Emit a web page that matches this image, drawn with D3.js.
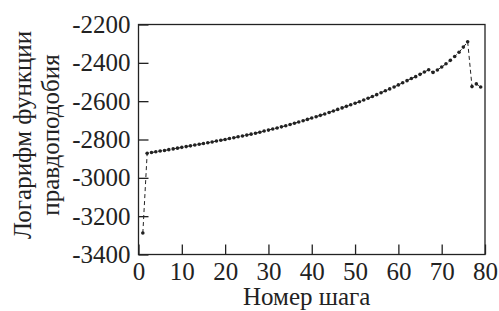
<!DOCTYPE html>
<html>
<head>
<meta charset="utf-8">
<script src="https://cdn.jsdelivr.net/npm/d3@7"></script>
<style>
  body { margin: 0; background: #fff; }
  svg text { font-family: "Times New Roman", Times, Tinos, "Liberation Serif", "DejaVu Serif", serif; fill: #222; }
</style>
</head>
<body>
<script>
var w = 499, h = 311;
var margin = {top: 24.5, right: 14, bottom: 56.5, left: 138.5};

// step numbers and log-likelihood values
var steps = d3.range(1, 80);
var logLik = [
  -3288, -2872, -2868, -2864, -2860, -2857, -2853, -2849, -2845, -2841,
  -2837, -2833, -2829, -2825, -2821, -2817, -2813, -2808, -2804, -2800,
  -2795, -2791, -2786, -2782, -2777, -2772, -2767, -2762, -2756, -2751,
  -2745, -2740, -2734, -2728, -2722, -2715, -2709, -2702, -2695, -2688,
  -2681, -2674, -2667, -2659, -2651, -2643, -2635, -2627, -2619, -2611,
  -2603, -2594, -2585, -2576, -2566, -2556, -2546, -2536, -2526, -2515,
  -2504, -2493, -2482, -2472, -2460, -2448, -2436, -2450, -2437, -2422,
  -2405, -2387, -2367, -2345, -2318, -2290, -2524, -2510, -2526
];
var xTicks = [0, 10, 20, 30, 40, 50, 60, 70, 80];
var yTicks = [-3400, -3200, -3000, -2800, -2600, -2400, -2200];
var yTitle = ["Логарифм функции", "правдоподобия"];
var xTitle = "Номер шага";

var serif = '"Times New Roman", Times, Tinos, "Liberation Serif", "DejaVu Serif", serif';
var data = steps.map(function(s, i) { return {x: s, y: logLik[i]}; });

var svg = d3.select('body').append('svg')
  .attr('width', w).attr('height', h)
  .attr('font-family', serif);

var x = d3.scaleLinear().domain([0, 80]).range([margin.left, w - margin.right]);
var y = d3.scaleLinear().domain([-3400, -2200]).range([h - margin.bottom, margin.top]);

// frame
svg.append('rect')
  .attr('x', x(0)).attr('y', y(-2200))
  .attr('width', x(80) - x(0)).attr('height', y(-3400) - y(-2200))
  .attr('fill', 'none').attr('stroke', '#222').attr('stroke-width', 1.3);

// axes with inward ticks
var xAxis = svg.append('g')
  .attr('transform', 'translate(0,' + y(-3400) + ')')
  .call(d3.axisBottom(x).tickValues(xTicks).tickSizeInner(-10).tickSizeOuter(0).tickPadding(8));
var yAxis = svg.append('g')
  .attr('transform', 'translate(' + x(0) + ',0)')
  .call(d3.axisLeft(y).tickValues(yTicks).tickSizeInner(-10).tickSizeOuter(0).tickPadding(8)
    .tickFormat(function(d) { return '-' + Math.abs(d); }));

[xAxis, yAxis].forEach(function(g) {
  g.attr('font-family', serif).attr('font-size', 25);
  g.select('.domain').remove();
  g.selectAll('line').attr('stroke', '#222').attr('stroke-width', 1.3);
  g.selectAll('text').attr('fill', '#222');
});

// dashed line through the points
var line = d3.line().x(function(d) { return x(d.x); }).y(function(d) { return y(d.y); });
svg.append('path')
  .datum(data)
  .attr('d', line)
  .attr('fill', 'none')
  .attr('stroke', '#222')
  .attr('stroke-width', 1)
  .attr('stroke-dasharray', '4,3');

svg.selectAll('circle')
  .data(data)
  .enter()
  .append('circle')
  .attr('cx', function(d) { return x(d.x); })
  .attr('cy', function(d) { return y(d.y); })
  .attr('r', 1.8)
  .attr('fill', '#222');

// titles
svg.append('text')
  .attr('x', (x(0) + x(80)) / 2 - 5)
  .attr('y', 305)
  .attr('text-anchor', 'middle')
  .attr('font-size', 25)
  .text(xTitle);

svg.selectAll('.ytitle')
  .data(yTitle)
  .enter()
  .append('text')
  .attr('class', 'ytitle')
  .attr('text-anchor', 'middle')
  .attr('font-size', 25)
  .attr('transform', function(d, i) { return 'translate(' + (31 + i * 28) + ',135) rotate(-90)'; })
  .text(function(d) { return d; });
</script>
</body>
</html>
